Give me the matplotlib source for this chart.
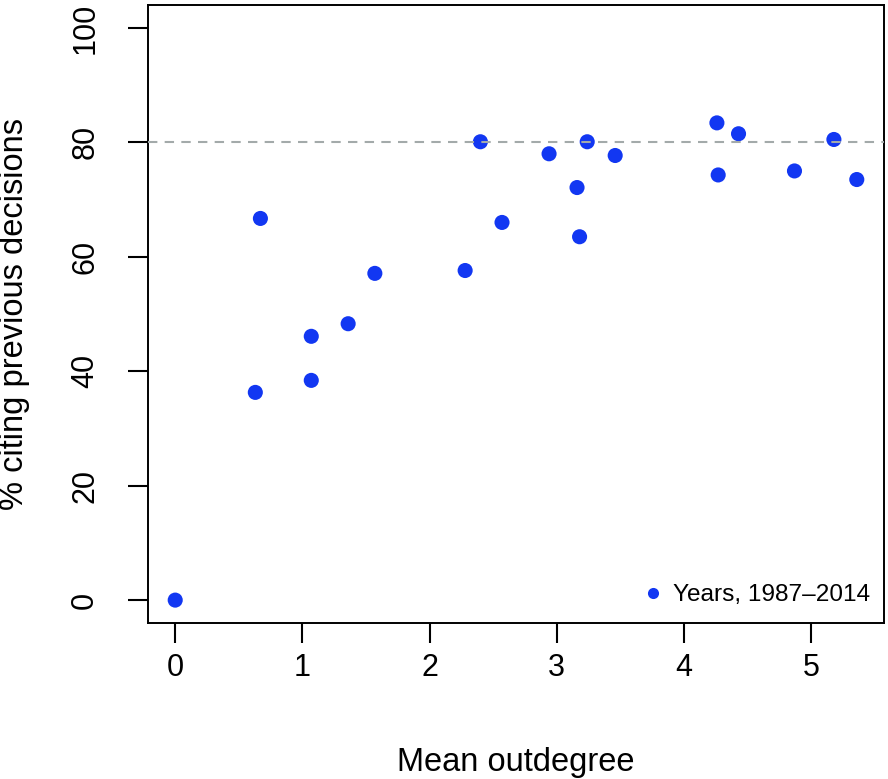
import matplotlib
matplotlib.use("Agg")
import matplotlib.pyplot as plt
from matplotlib.lines import Line2D

# values
outdegree = [0.00, 0.63, 0.67, 1.07, 1.07, 1.36, 1.57, 2.28, 2.40, 2.57, 2.94,
             3.16, 3.18, 3.24, 3.46, 4.26, 4.27, 4.43, 4.87, 5.18, 5.36]
pct_citing = [0.0, 36.3, 66.7, 46.1, 38.4, 48.3, 57.1, 57.6, 80.1, 66.0, 78.0,
              72.1, 63.5, 80.1, 77.7, 83.4, 74.3, 81.5, 75.0, 80.5, 73.5]
x_ticks = [0, 1, 2, 3, 4, 5]
y_ticks = [0, 20, 40, 60, 80, 100]
ref_line = 80
legend_label = "Years, 1987\u20132014"

plt.rcParams["font.family"] = ["Liberation Sans", "DejaVu Sans"]

BLUE = "#1237F2"

fig = plt.figure(figsize=(8.88, 7.79), dpi=100)
ax = fig.add_axes([148 / 888, 1 - 623 / 779, 736 / 888, 618 / 779])

ax.scatter(outdegree, pct_citing, s=118, color=BLUE, edgecolors="none", zorder=2)
ax.axhline(ref_line, color="#A3AAAA", linestyle=(0, (4.5, 3.5)), linewidth=1.5, zorder=3)

# R-style 4% axis extension
ax.set_xlim(-0.214, 5.574)
ax.set_ylim(-4, 104)
ax.set_xticks(x_ticks)
ax.set_yticks(y_ticks)
ax.tick_params(axis="both", length=14.4, width=1.5, labelsize=22, direction="out")
ax.tick_params(axis="x", pad=7)
ax.tick_params(axis="y", pad=20)
for lab in ax.get_yticklabels():
    lab.set_rotation(90)
    lab.set_va("center")
for sp in ax.spines.values():
    sp.set_linewidth(1.4)

ax.set_xlabel("Mean outdegree", fontsize=23.5)
ax.xaxis.set_label_coords(0.5, (623 - 763) / 618)
ax.xaxis.label.set_va("center")
ax.set_ylabel("% citing previous decisions", fontsize=23.5)
ax.yaxis.set_label_coords((15 - 148) / 736, 0.5)
ax.yaxis.label.set_va("center")

handle = Line2D([], [], marker="o", linestyle="none", color=BLUE, markersize=8,
                markeredgewidth=0)
ax.legend([handle], [legend_label], loc="lower right", frameon=False, fontsize=17.6,
          handletextpad=0.35, borderaxespad=0.15, handlelength=1.0,
          bbox_to_anchor=(1.0, 0.005))

fig.savefig("out.png", dpi=100)
